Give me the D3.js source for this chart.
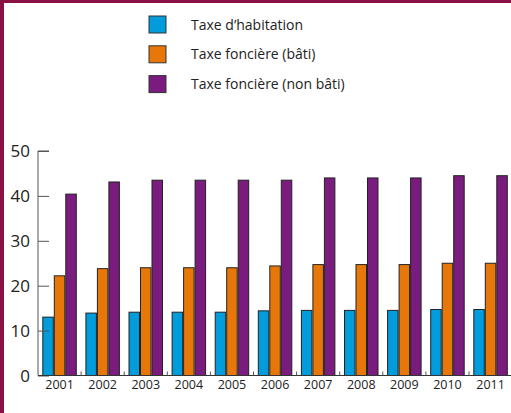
<!DOCTYPE html>
<html>
<head>
<meta charset="utf-8">
<script src="https://cdn.jsdelivr.net/npm/d3@7"></script>
<style>
  body { margin: 0; background: #fff; }
  svg { display: block; font-family: "Open Sans", sans-serif; }
</style>
</head>
<body>
<div id="chart"></div>
<script>
// years and the three tax rates (%)
var years = ['2001','2002','2003','2004','2005','2006','2007','2008','2009','2010','2011'];
var habitation = [13.0, 13.9, 14.1, 14.1, 14.1, 14.4, 14.5, 14.5, 14.5, 14.7, 14.7];
var fonciereBati = [22.2, 23.8, 24.0, 24.0, 24.0, 24.4, 24.7, 24.7, 24.7, 25.0, 25.0];
var fonciereNonBati = [40.4, 43.1, 43.5, 43.5, 43.5, 43.5, 44.0, 44.0, 44.0, 44.5, 44.5];
var seriesNames = ['Taxe d\u2019habitation', 'Taxe fonci\u00e8re (b\u00e2ti)', 'Taxe fonci\u00e8re (non b\u00e2ti)'];
var seriesColors = ['#009cdb', '#e8770a', '#7a1b7e'];
var yTicks = [0, 10, 20, 30, 40, 50];

var W = 511, H = 413;
var margin = {t: 151, l: 38, b: 38};
var series = [habitation, fonciereBati, fonciereNonBati];

var svg = d3.select('#chart').append('svg')
	.attr('width', W)
	.attr('height', H);

// frame on left and top
svg.append('rect').attr('x', 0).attr('y', 0).attr('width', 4).attr('height', H).attr('fill', '#8b1145');
svg.append('rect').attr('x', 0).attr('y', 0).attr('width', W).attr('height', 3).attr('fill', '#8b1145');

var x = d3.scaleBand().domain(years).range([margin.l, margin.l + 43.1 * 11]).paddingInner(0.2).paddingOuter(0.1);
var xs = d3.scaleBand().domain([0, 1, 2]).range([0, x.bandwidth()]);
var y = d3.scaleLinear().domain([0, 50]).range([375.5, 151]);

// bars
var groups = svg.selectAll('.grp')
	.data(years)
	.enter().append('g')
	.attr('class', 'grp')
	.attr('transform', function(d) { return 'translate(' + x(d) + ',0)'; });

groups.selectAll('rect.bar')
	.data(function(d, i) { return series.map(function(s, k) { return {k: k, v: s[i]}; }); })
	.enter().append('rect')
	.attr('class', 'bar')
	.attr('x', function(d) { return xs(d.k) + 0.5; })
	.attr('y', function(d) { return y(d.v); })
	.attr('width', xs.bandwidth() - 1)
	.attr('height', function(d) { return y(0) - y(d.v); })
	.attr('fill', function(d) { return seriesColors[d.k]; })
	.attr('stroke', '#222')
	.attr('stroke-width', 1);

// y axis, ticks pointing inward
var yAxis = svg.append('g')
	.attr('transform', 'translate(' + margin.l + ',0)')
	.call(d3.axisRight(y).tickValues(yTicks).tickSize(11).tickFormat(''));
yAxis.select('.domain').attr('stroke', '#555').attr('d', 'M' + 11 + ',' + y(50) + 'H0V' + y(0));
yAxis.selectAll('.tick line').attr('stroke', '#555');

svg.selectAll('.ylab')
	.data(yTicks)
	.enter().append('text')
	.attr('class', 'ylab')
	.attr('x', 30)
	.attr('y', function(d) { return y(d) + 6; })
	.attr('text-anchor', 'end')
	.attr('font-size', 17)
	.attr('fill', '#222')
	.text(function(d) { return d; });

// x axis
svg.append('line')
	.attr('x1', margin.l).attr('x2', W)
	.attr('y1', y(0)).attr('y2', y(0))
	.attr('stroke', '#333');

svg.selectAll('.xtick')
	.data(years.slice(1))
	.enter().append('line')
	.attr('class', 'xtick')
	.attr('x1', function(d) { return x(d) - x.step() * x.paddingInner() / 2; })
	.attr('x2', function(d) { return x(d) - x.step() * x.paddingInner() / 2; })
	.attr('y1', y(0)).attr('y2', y(0) - 4)
	.attr('stroke', '#555');

svg.selectAll('.xlab')
	.data(years)
	.enter().append('text')
	.attr('class', 'xlab')
	.attr('x', function(d) { return x(d) + x.bandwidth() / 2; })
	.attr('y', 389)
	.attr('text-anchor', 'middle')
	.attr('font-size', 12.5)
	.attr('fill', '#222')
	.text(function(d) { return d; });

// legend
var leg = svg.selectAll('.leg')
	.data(seriesNames)
	.enter().append('g')
	.attr('class', 'leg')
	.attr('transform', function(d, i) { return 'translate(149,' + (16 + i * 29.8) + ')'; });

leg.append('rect')
	.attr('width', 17).attr('height', 17)
	.attr('fill', function(d, i) { return seriesColors[i]; })
	.attr('stroke', '#333');

leg.append('text')
	.attr('x', 42)
	.attr('y', 13.5)
	.attr('font-size', 14)
	.attr('fill', '#222')
	.text(function(d) { return d; });
</script>
</body>
</html>
